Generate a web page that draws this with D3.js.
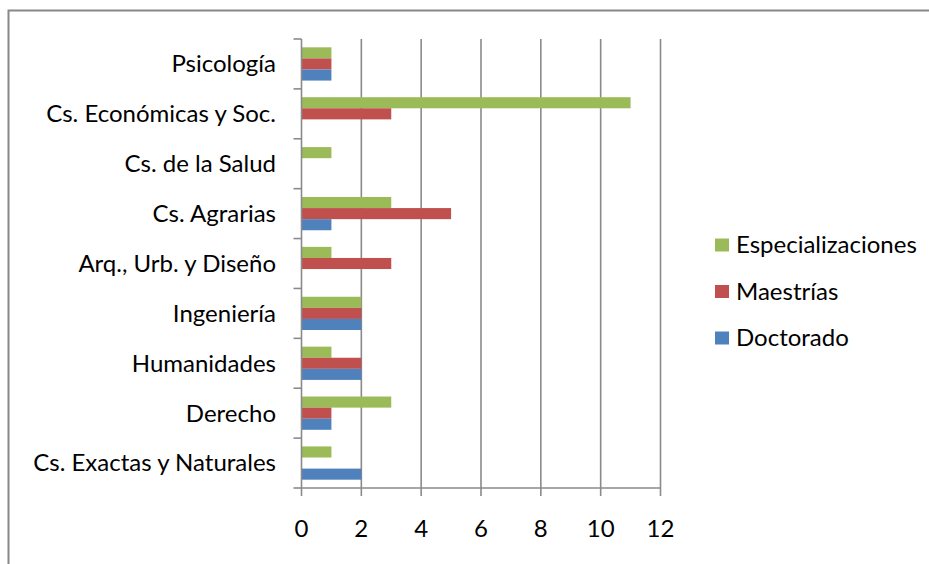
<!DOCTYPE html>
<html>
<head>
<meta charset="utf-8">
<script src="https://cdn.jsdelivr.net/npm/d3@7"></script>
<style>
  body { margin: 0; background: #fff; }
  text { font-family: Lato, "Open Sans", sans-serif; fill: #000; }
</style>
</head>
<body>
<div id="chart"></div>
<script>
// categories, bottom to top as in the sheet
var categories = ["Cs. Exactas y Naturales", "Derecho", "Humanidades", "Ingeniería",
                  "Arq., Urb. y Diseño", "Cs. Agrarias", "Cs. de la Salud",
                  "Cs. Económicas y Soc.", "Psicología"];
var doctorado        = [2, 1, 2, 2, 0, 1, 0, 0, 1];
var maestrias        = [0, 1, 2, 2, 3, 5, 0, 3, 1];
var especializaciones = [1, 3, 1, 2, 1, 3, 1, 11, 1];
var seriesNames = ["Especializaciones", "Maestrías", "Doctorado"];
var seriesColors = ["#9BBB59", "#C0504D", "#4F81BD"];
var xTicks = [0, 2, 4, 6, 8, 10, 12];

var w = 929, h = 564;
var fontSize = 24;

var svg = d3.select("#chart").append("svg")
    .attr("width", w)
    .attr("height", h);

// outer frame
svg.append("rect")
   .attr("x", 8.5).attr("y", 10.5)
   .attr("width", 1000).attr("height", 1000)
   .attr("fill", "none")
   .attr("stroke", "#888")
   .attr("stroke-width", 2);

var x = d3.scaleLinear().domain([0, 12]).range([301.5, 660.5]);

var y = d3.scaleBand()
    .domain(categories.slice().reverse())
    .range([39, 488])
    .paddingInner(1 / 3)
    .paddingOuter(1 / 6);

var ySub = d3.scaleBand()
    .domain(seriesNames)
    .range([0, y.bandwidth()]);

var step = y.step();
var top0 = 39, bottom0 = 488;

// gridlines
svg.append("g").selectAll("line")
   .data(xTicks.slice(1))
   .enter().append("line")
   .attr("x1", function(d) { return x(d); })
   .attr("x2", function(d) { return x(d); })
   .attr("y1", top0).attr("y2", bottom0 + 8)
   .attr("stroke", "#8a8a8a")
   .attr("stroke-width", 1.6);

// bars
var table = categories.map(function(c, i) {
    return { cat: c, values: [especializaciones[i], maestrias[i], doctorado[i]] };
});

var groups = svg.append("g").selectAll("g")
   .data(table)
   .enter().append("g")
   .attr("transform", function(d) { return "translate(0," + y(d.cat) + ")"; });

groups.selectAll("rect")
   .data(function(d) { return d.values.map(function(v, j) { return { v: v, s: seriesNames[j], c: seriesColors[j] }; }); })
   .enter().append("rect")
   .filter(function(d) { return d.v > 0; })
   .attr("x", x(0))
   .attr("y", function(d) { return ySub(d.s); })
   .attr("width", function(d) { return x(d.v) - x(0); })
   .attr("height", ySub.bandwidth())
   .attr("fill", function(d) { return d.c; });

// category axis line and ticks at boundaries
var boundaries = d3.range(categories.length + 1).map(function(i) { return top0 + i * step; });
svg.append("line")
   .attr("x1", x(0)).attr("x2", x(0))
   .attr("y1", top0).attr("y2", bottom0 + 8)
   .attr("stroke", "#8a8a8a").attr("stroke-width", 1.6);
svg.append("g").selectAll("line")
   .data(boundaries)
   .enter().append("line")
   .attr("x1", x(0) - 8).attr("x2", x(0))
   .attr("y1", function(d) { return d; })
   .attr("y2", function(d) { return d; })
   .attr("stroke", "#8a8a8a").attr("stroke-width", 1.6);

// value axis line
svg.append("line")
   .attr("x1", x(0)).attr("x2", x(12))
   .attr("y1", bottom0).attr("y2", bottom0)
   .attr("stroke", "#8a8a8a").attr("stroke-width", 1.6);

// category labels
svg.append("g").selectAll("text")
   .data(categories)
   .enter().append("text")
   .attr("x", 276)
   .attr("y", function(d) { return y(d) + y.bandwidth() / 2; })
   .attr("dy", "0.35em")
   .attr("text-anchor", "end")
   .attr("font-size", fontSize)
   .text(function(d) { return d; });

// value labels
svg.append("g").selectAll("text")
   .data(xTicks)
   .enter().append("text")
   .attr("x", function(d) { return x(d); })
   .attr("y", 529)
   .attr("dy", "0.35em")
   .attr("text-anchor", "middle")
   .attr("font-size", fontSize)
   .text(function(d) { return d; });

// legend
var legend = svg.append("g").selectAll("g")
   .data(seriesNames)
   .enter().append("g")
   .attr("transform", function(d, i) { return "translate(715," + (245 + i * 46.5) + ")"; });
legend.append("rect")
   .attr("x", 0).attr("y", -6.5)
   .attr("width", 14).attr("height", 13)
   .attr("fill", function(d, i) { return seriesColors[i]; });
legend.append("text")
   .attr("x", 21).attr("y", 0)
   .attr("dy", "0.35em")
   .attr("font-size", fontSize)
   .text(function(d) { return d; });
</script>
</body>
</html>
